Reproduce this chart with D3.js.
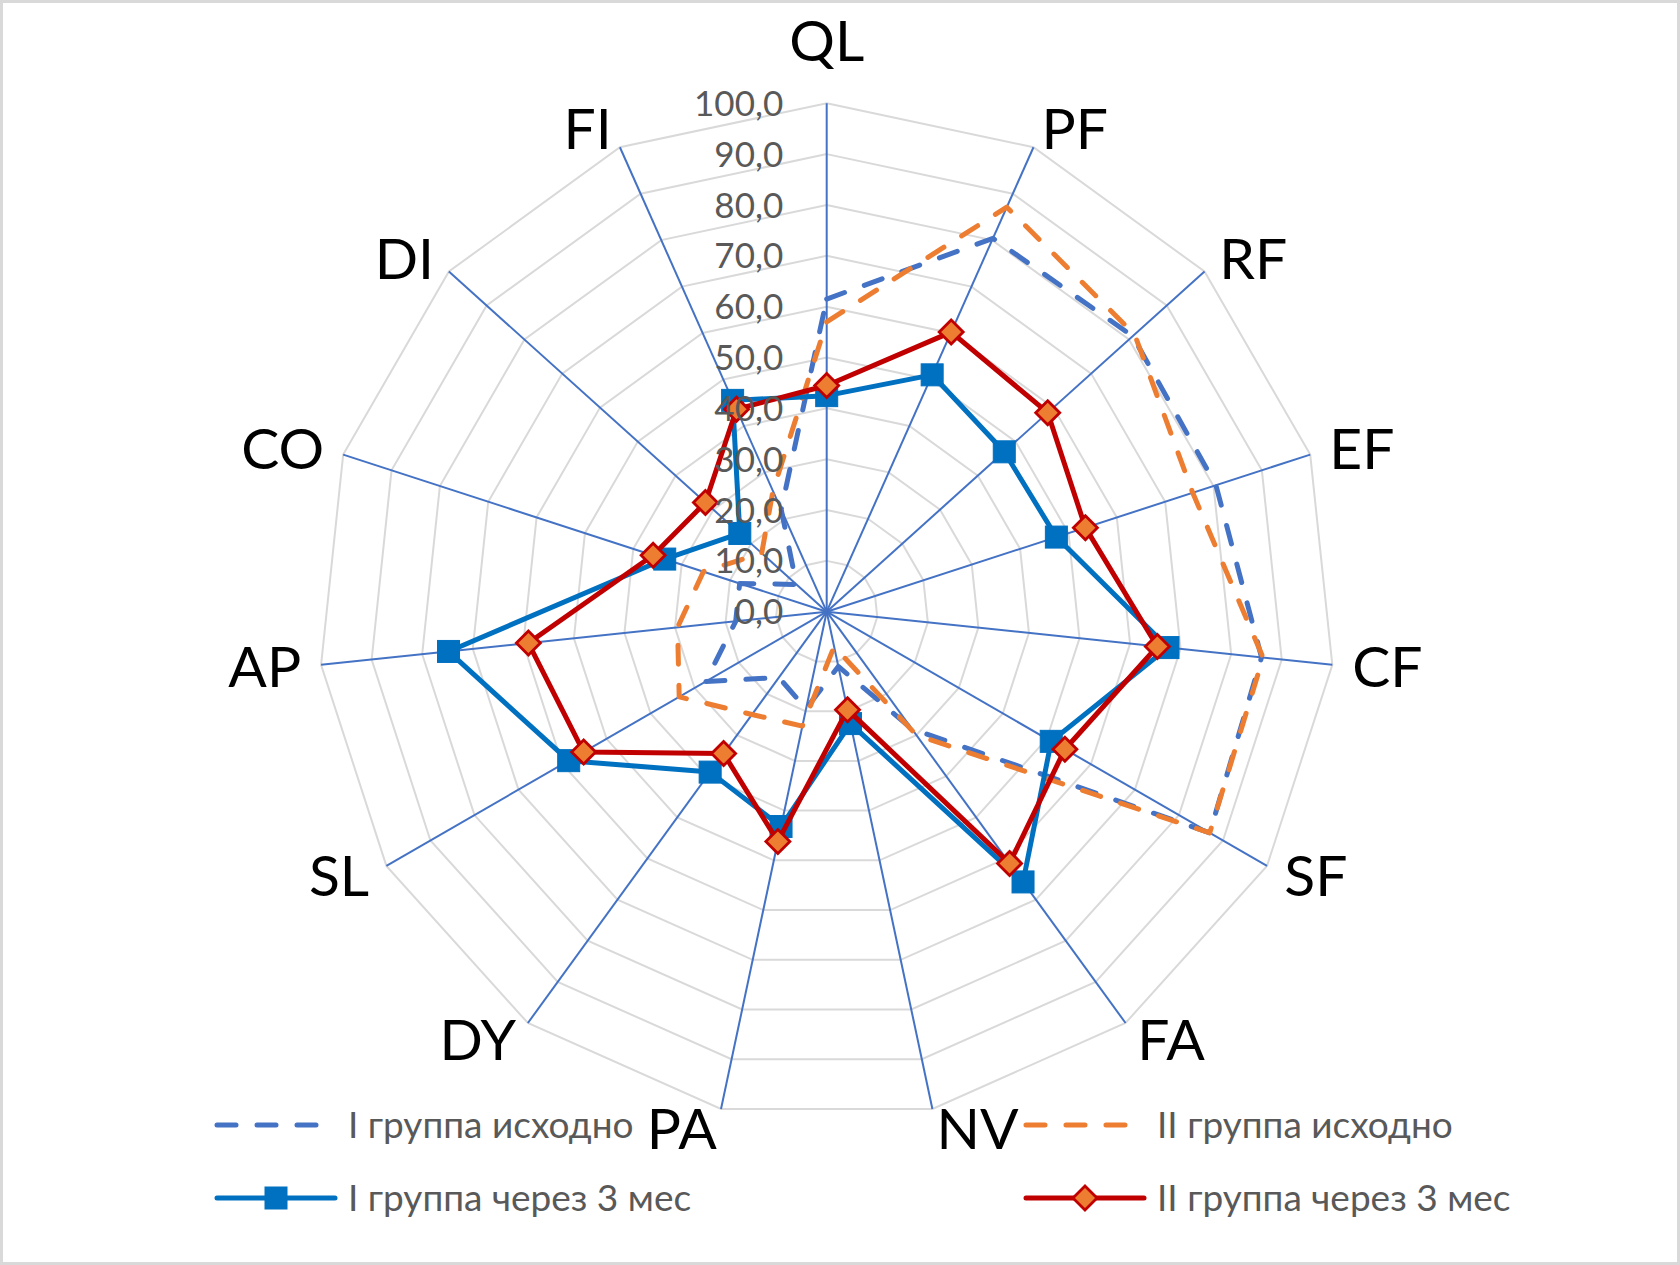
<!DOCTYPE html>
<html><head><meta charset="utf-8">
<script src="https://cdn.jsdelivr.net/npm/d3@7"></script>
<style>
html,body{margin:0;padding:0;background:#fff;}
svg{display:block;}
text{font-family:Lato,"Open Sans","Noto Sans",sans-serif;}
</style></head><body>
<svg id="chart" width="1680" height="1265"></svg>
<script>
// ---------- data ----------
const categories = ["QL","PF","RF","EF","CF","SF","FA","NV","PA","DY","SL","AP","CO","DI","FI"];
const seriesNames = ["I группа исходно","II группа исходно","I группа через 3 мес","II группа через 3 мес"];
const group1Base  = [61.5, 80.4, 81.0, 80.5, 86.0, 87.0, 28.5, 11.0, 19.5, 16.0, 27.5, 18.0, 18.0, 8.0, 22.0];
const group2Base  = [57.0, 87.1, 81.5, 75.7, 86.3, 87.0, 30.0, 7.0, 23.0, 25.0, 33.5, 29.5, 25.5, 17.2, 26.0];
const group1After = [42.5, 51.0, 47.0, 47.5, 67.5, 51.0, 65.7, 22.5, 43.2, 39.0, 58.6, 74.8, 33.5, 23.0, 45.5];
const group2After = [44.5, 60.2, 58.5, 53.5, 65.4, 54.1, 61.2, 19.7, 46.2, 34.5, 55.2, 59.0, 35.9, 32.1, 43.6];
const tickValues = [0,10,20,30,40,50,60,70,80,90,100];
const tickLabels = ["0,0","10,0","20,0","30,0","40,0","50,0","60,0","70,0","80,0","90,0","100,0"];

// ---------- layout ----------
const W = 1680, H = 1265;
const cx = 826.7, cy = 611.7, R = 508.4;
const svg = d3.select("#chart");

svg.append("rect").attr("x",1.5).attr("y",1.5).attr("width",W-3).attr("height",H-3)
  .attr("fill","#fff").attr("stroke","#D9D9D9").attr("stroke-width",3);

const r = d3.scaleLinear().domain([0,100]).range([0,R]);
const ang = d3.scaleLinear().domain([0,categories.length]).range([0,2*Math.PI]);

const g = svg.append("g").attr("transform",`translate(${cx},${cy})`);

// grid rings
const ringLine = d3.lineRadial().angle((d,i)=>ang(i)).radius(d=>r(d)).curve(d3.curveLinearClosed);
g.append("g").selectAll("path").data(tickValues.filter(v=>v>0)).join("path")
  .attr("d", v => ringLine(categories.map(()=>v)))
  .attr("fill","none").attr("stroke","#D9D9D9").attr("stroke-width",2);

// spokes
g.append("g").selectAll("line").data(categories).join("line")
  .attr("x1",0).attr("y1",0)
  .attr("x2",(d,i)=>r(100)*Math.sin(ang(i)))
  .attr("y2",(d,i)=>-r(100)*Math.cos(ang(i)))
  .attr("stroke","#4472C4").attr("stroke-width",2);

// category labels
const capCat = 0.7165*57;
g.append("g").selectAll("text").data(categories).join("text")
  .each(function(d,i){
    const a = ang(i), s = Math.sin(a), c = Math.cos(a);
    const vx = r(100)*s, vy = -r(100)*c;
    let x = vx + 20*s, y = vy - 20*c;
    let anchor = Math.abs(s) < 0.05 ? "middle" : (s > 0 ? "start" : "end");
    if (Math.abs(s) < 0.05) y += (c > 0 ? -42.6 : 42.6);
    d3.select(this).attr("x",x).attr("y",y + capCat/2).attr("text-anchor",anchor);
  })
  .attr("font-size",57).attr("fill","#000").text(d=>d);

// series
const series = [
  {name:seriesNames[0], values:group1Base,  color:"#4472C4", dash:"19 21", marker:null},
  {name:seriesNames[1], values:group2Base,  color:"#ED7D31", dash:"19 21", marker:null},
  {name:seriesNames[2], values:group1After, color:"#0070C0", dash:null, marker:"square"},
  {name:seriesNames[3], values:group2After, color:"#C00000", dash:null, marker:"diamond"}
];
const valLine = d3.lineRadial().angle((d,i)=>ang(i)).radius(d=>r(d)).curve(d3.curveLinearClosed);

function drawMarker(sel, type){
  if (type === "square") {
    sel.append("rect").attr("x",-11).attr("y",-11).attr("width",22).attr("height",22)
      .attr("fill","#0070C0").attr("stroke","#0070C0").attr("stroke-width",1);
  } else if (type === "diamond") {
    sel.append("path").attr("d","M0,-12L12,0L0,12L-12,0Z")
      .attr("fill","#ED7D31").attr("stroke","#C00000").attr("stroke-width",2.8).attr("stroke-linejoin","miter");
  }
}

series.forEach(s => {
  g.append("path").attr("d", valLine(s.values))
    .attr("fill","none").attr("stroke",s.color).attr("stroke-width",5)
    .attr("stroke-linejoin","round").attr("stroke-linecap","round")
    .attr("stroke-dasharray", s.dash);
  if (s.marker) {
    g.append("g").selectAll("g").data(s.values).join("g")
      .attr("transform",(d,i)=>`translate(${r(d)*Math.sin(ang(i))},${-r(d)*Math.cos(ang(i))})`)
      .each(function(){ drawMarker(d3.select(this), s.marker); });
  }
});

// tick labels
const capTick = 0.7165*35;
g.append("g").selectAll("text").data(tickValues).join("text")
  .attr("x",-43.5).attr("y",d=>-r(d) + capTick/2)
  .attr("text-anchor","end").attr("font-size",35).attr("fill","#595959")
  .text((d,i)=>tickLabels[i]);

// legend
const legCols = [217, 1026], legRows = [1125, 1198];
const legPos = [[0,0],[1,0],[0,1],[1,1]];
const capLeg = 0.7165*37;
series.forEach((s,k) => {
  const x0 = legCols[legPos[k][0]], y0 = legRows[legPos[k][1]];
  const lg = svg.append("g").attr("transform",`translate(${x0},${y0})`);
  lg.append("line").attr("x1",0).attr("x2",118).attr("y1",0).attr("y2",0)
    .attr("stroke",s.color).attr("stroke-width",5).attr("stroke-linecap","round")
    .attr("stroke-dasharray", s.dash);
  if (s.marker) drawMarker(lg.append("g").attr("transform","translate(59,0)"), s.marker);
  lg.append("text").attr("x",131).attr("y",capLeg/2).attr("font-size",37)
    .attr("fill","#595959").text(s.name);
});
</script>
</body></html>
